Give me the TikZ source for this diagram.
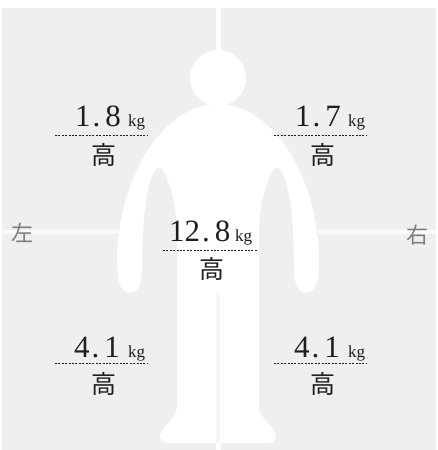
\documentclass[tikz,border=0pt]{standalone}
\usepackage{fontspec}
\setmainfont{Liberation Serif}
\newfontfamily\cjkfont{Noto Sans CJK JP}
\definecolor{panel}{RGB}{239,239,239}
\definecolor{seam}{RGB}{246,246,246}
\definecolor{ink}{RGB}{30,30,30}
\definecolor{sidegray}{RGB}{125,125,125}
\newcommand{\mass}[2]{#1\kern2pt.\kern5pt#2}
\begin{document}
\begin{tikzpicture}[x=1pt,y=-1pt,
  numtext/.style={anchor=base west, inner sep=0pt, text=ink,
    font=\fontsize{31}{31}\selectfont},
  unittext/.style={anchor=base west, inner sep=0pt, text=ink,
    font=\fontsize{17}{17}\selectfont},
  levelchar/.style={anchor=base, inner sep=0pt, text=ink,
    font=\cjkfont\fontsize{25}{25}\selectfont},
  sidechar/.style={anchor=base, inner sep=0pt, text=sidegray,
    font=\cjkfont\fontsize{22}{22}\selectfont},
  dashrule/.style={draw=ink, line width=0.8pt, dash pattern=on 2pt off 1.4pt},
  bodyfill/.style={fill=white, draw=none}]
\useasboundingbox (0,0) rectangle (438,450);

% paper and the four grey panels
\fill[white] (0,0) rectangle (438,450);
\fill[panel] (2,8) rectangle (436,450);
% white cross dividing the panels
\draw[white, line width=5pt] (218,8) -- (218,450);
\draw[white, opacity=0.75, line width=4pt] (0,232) -- (118,232);
\draw[white, opacity=0.75, line width=4pt] (318,232) -- (438,232);

% figure: head
\fill[white] (218,78) circle[radius=28];
% figure: body, left half and its mirror image
\foreach \side in {0,1}{
\begin{scope}[shift={(436*\side,0)}, xscale={1-2*\side}]
\path[bodyfill] (218.6,104)
  .. controls (162,104) and (117,180) .. (117,262)
  .. controls (117,284) and (122,293) .. (130,293)
  .. controls (138,293) and (142,284) .. (142,268)
  .. controls (142,222) and (146,190) .. (153,174)
  .. controls (157,165) and (163,166) .. (167,178)
  .. controls (172,192) and (177,208) .. (177,235)
  -- (177,408)
  .. controls (174,422) and (160,428) .. (160,436)
  .. controls (160,441) and (164,443) .. (172,443)
  -- (218.6,443) -- cycle;
\end{scope}
}
% seam between the legs
\draw[seam, line width=4pt] (218,292) -- (218,443);

% upper left
\node[numtext] (ulnum) at (75,126) {\mass{1}{8}};
\node[unittext] (ulunit) at (128,126) {kg};
\coordinate (ulruleA) at (55,135);
\coordinate (ulruleB) at (147,135);
\draw[dashrule] (ulruleA) -- (ulruleB);
\node[levelchar] (ulchar) at (103.5,164) {高};

% upper right
\node[numtext] (urnum) at (295,126) {\mass{1}{7}};
\node[unittext] (urunit) at (348,126) {kg};
\coordinate (urruleA) at (274,135);
\coordinate (urruleB) at (367,135);
\draw[dashrule] (urruleA) -- (urruleB);
\node[levelchar] (urchar) at (322.5,164) {高};

% trunk
\node[numtext] (ctnum) at (169,241) {\mass{12}{8}};
\node[unittext] (ctunit) at (235,241) {kg};
\coordinate (ctruleA) at (163,250);
\coordinate (ctruleB) at (258,250);
\draw[dashrule] (ctruleA) -- (ctruleB);
\node[levelchar] (ctchar) at (212,278) {高};

% lower left
\node[numtext] (llnum) at (74,357) {\mass{4}{1}};
\node[unittext] (llunit) at (128,357) {kg};
\coordinate (llruleA) at (55,363);
\coordinate (llruleB) at (147,363);
\draw[dashrule] (llruleA) -- (llruleB);
\node[levelchar] (llchar) at (103.5,393) {高};

% lower right
\node[numtext] (lrnum) at (294,357) {\mass{4}{1}};
\node[unittext] (lrunit) at (348,357) {kg};
\coordinate (lrruleA) at (274,363);
\coordinate (lrruleB) at (367,363);
\draw[dashrule] (lrruleA) -- (lrruleB);
\node[levelchar] (lrchar) at (322.5,393) {高};

% side labels
\node[sidechar] (leftside) at (22,241.5) {左};
\node[sidechar] (rightside) at (417,243.5) {右};
\end{tikzpicture}
\end{document}
